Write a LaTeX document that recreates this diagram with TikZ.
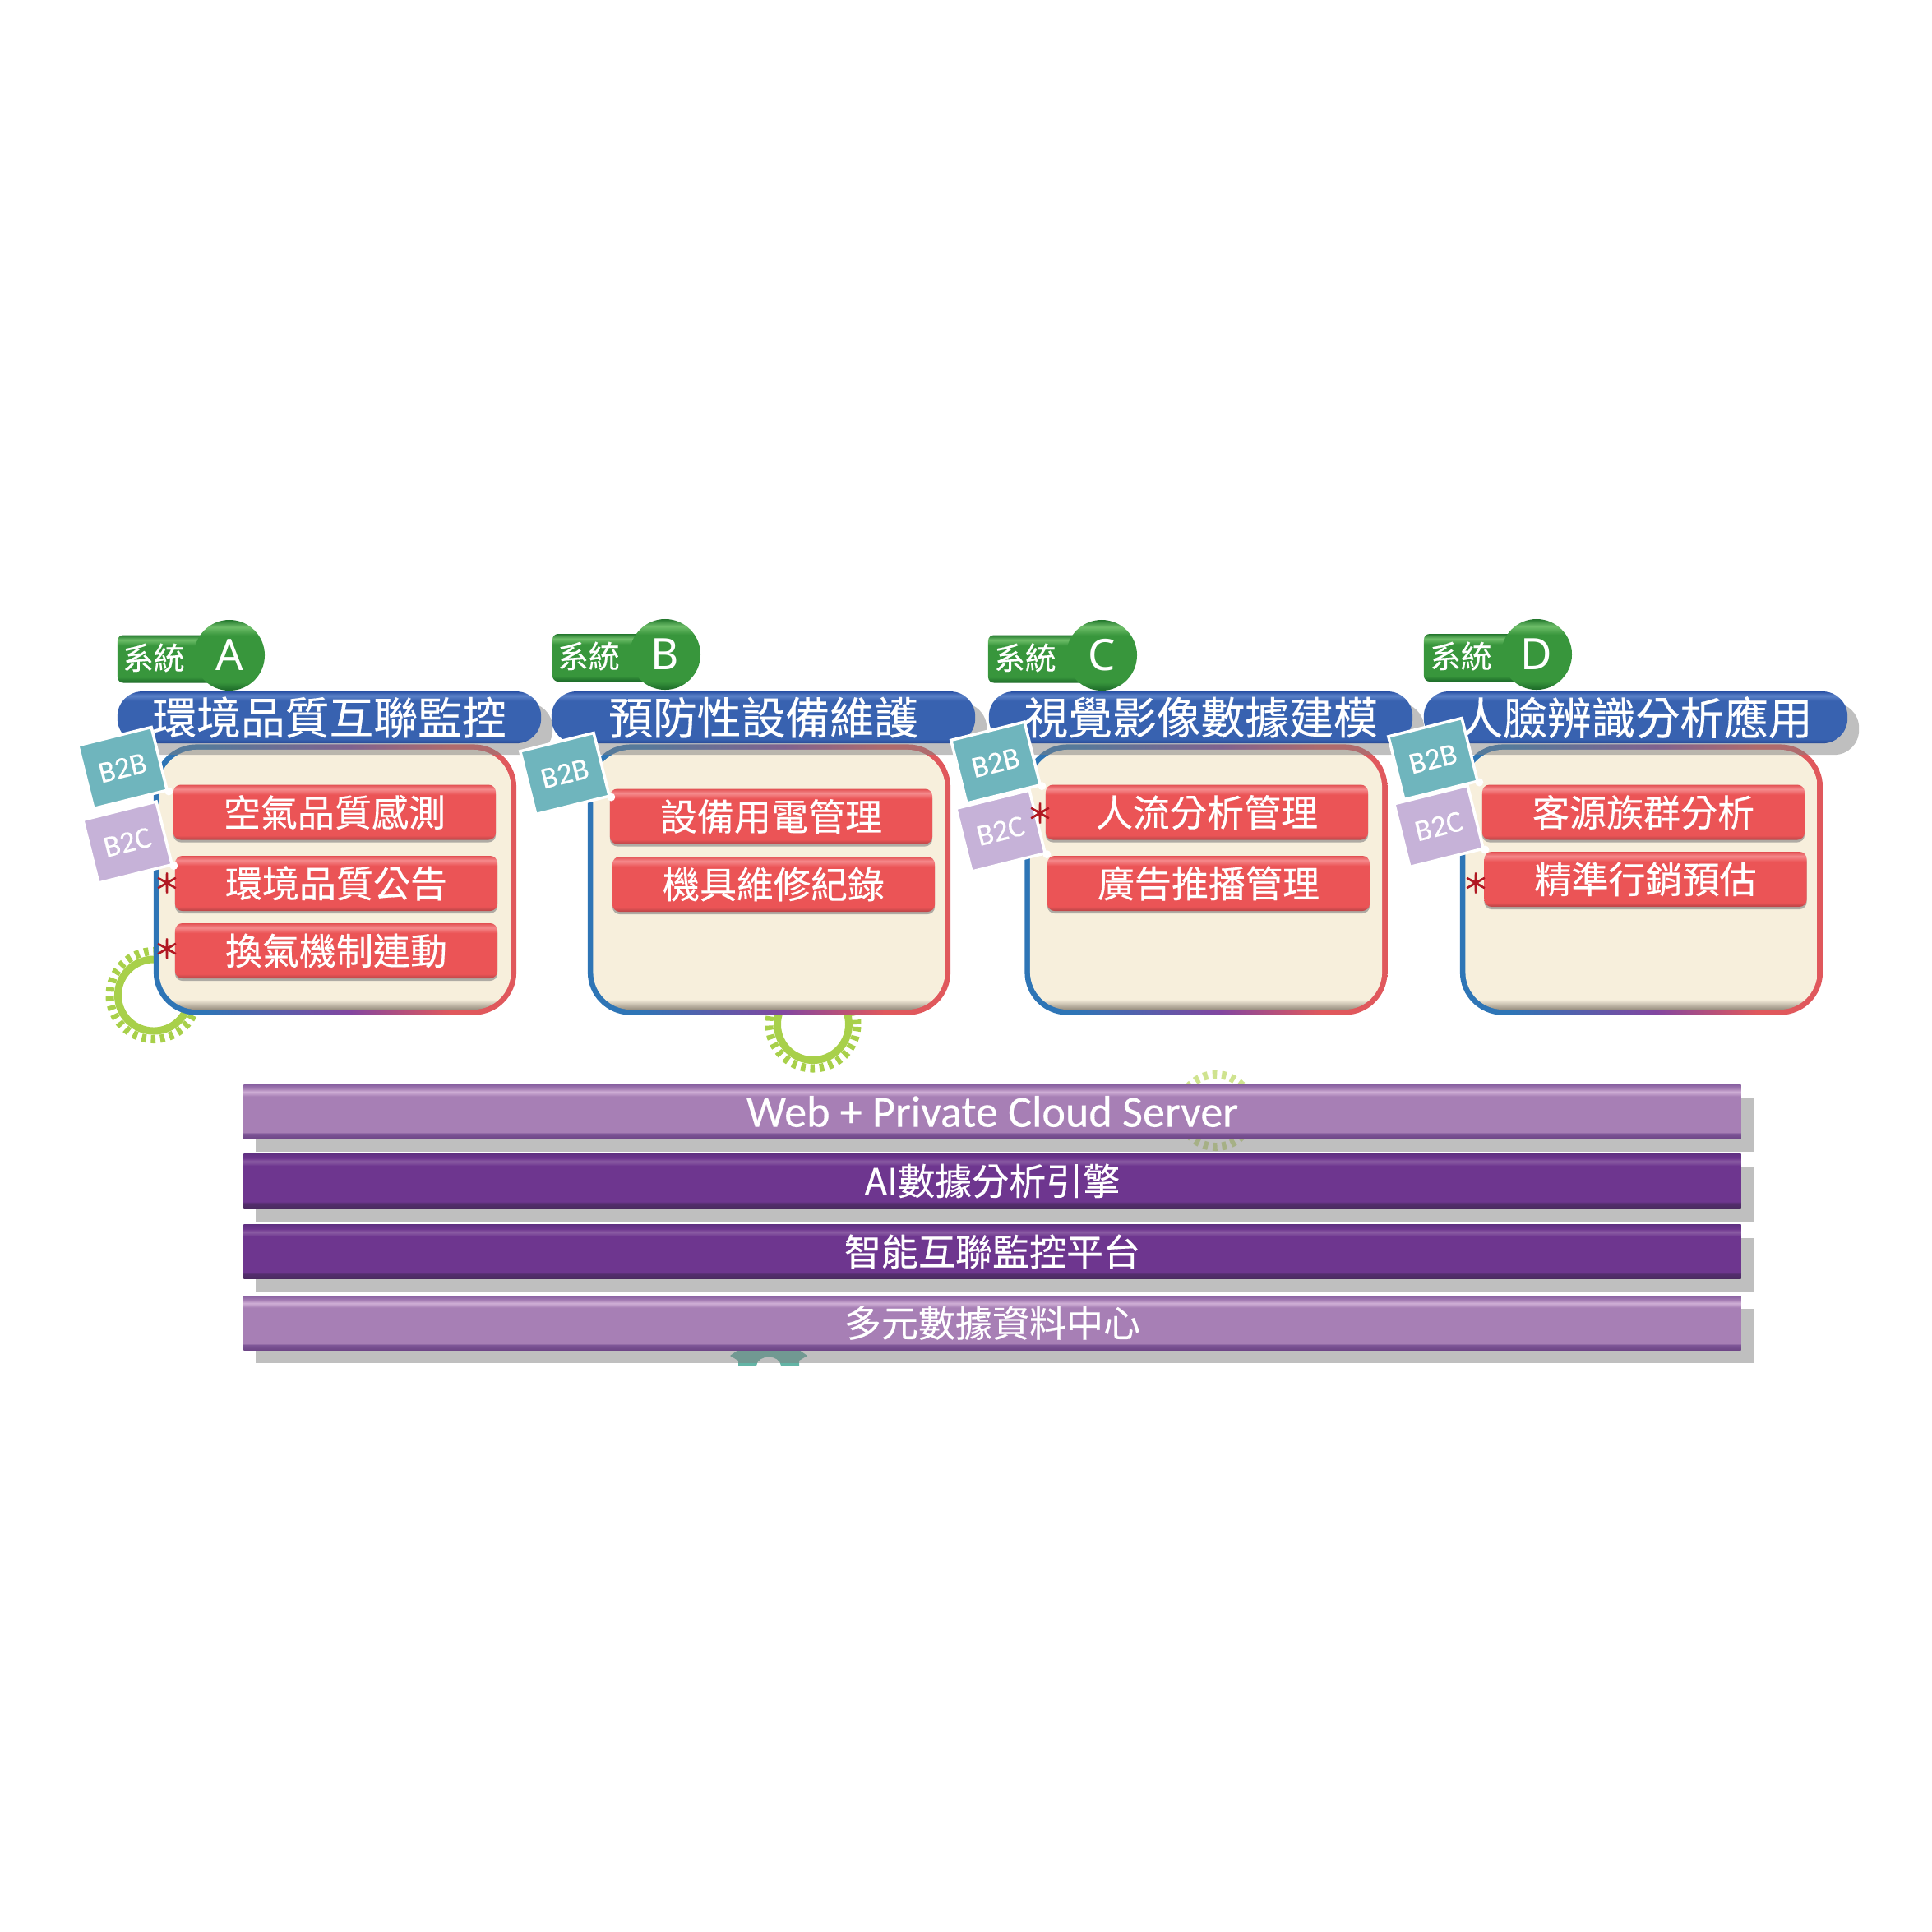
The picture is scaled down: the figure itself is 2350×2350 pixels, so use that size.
\documentclass[tikz,border=0pt]{standalone}
\usepackage{fontspec}
\setmainfont{Noto Sans CJK TC}[FakeBold=0.25]
\newfontfamily\latinfont{Carlito}[FakeBold=0.2]
\newfontfamily\letterfont{Noto Sans}
\newfontfamily\starfont{Noto Sans CJK TC}[FakeBold=2.5]
\usetikzlibrary{shadows}

\definecolor{shadowgray}{HTML}{7F7F7F}
\definecolor{gearcol}{HTML}{A8D04A}
\definecolor{gearpale}{HTML}{CFE38F}
\definecolor{tagteal}{HTML}{6FB5BD}
\definecolor{taglilac}{HTML}{C6B2D8}
\definecolor{starred}{HTML}{B01822}
\definecolor{puzzleteal}{HTML}{63B5A6}
\definecolor{redmain}{HTML}{EB5456}
\definecolor{redlight}{HTML}{F58A8C}
\definecolor{reddark}{HTML}{B84446}
\definecolor{redtop}{HTML}{E25052}
\definecolor{bluemain}{HTML}{3862B0}
\definecolor{bluelight}{HTML}{5C82C8}
\definecolor{bluedark}{HTML}{284B96}
\definecolor{bluetop}{HTML}{2850A5}
\definecolor{greenmain}{HTML}{38963C}
\definecolor{greenlight}{HTML}{6EBE69}
\definecolor{greendark}{HTML}{1C6928}
\definecolor{greentop}{HTML}{23782D}
\definecolor{lilmain}{HTML}{A77FB5}
\definecolor{lillight}{HTML}{D0AFD6}
\definecolor{lildark}{HTML}{6E4687}
\definecolor{lilshade}{HTML}{7D5596}
\definecolor{liltop}{HTML}{875FA0}
\definecolor{purmain}{HTML}{6E368F}
\definecolor{purlight}{HTML}{8A5CA3}
\definecolor{purdark}{HTML}{4A2A60}
\definecolor{purshade}{HTML}{542D6E}
\definecolor{purtop}{HTML}{603082}
\definecolor{rimblue}{HTML}{2E75B6}
\definecolor{rimmid}{HTML}{8246A0}
\definecolor{rimred}{HTML}{E0585C}
\definecolor{cream}{HTML}{F7EFDC}
\definecolor{creamdark}{HTML}{968C7D}

\pgfdeclareverticalshading{redbtn}{100bp}{color(0bp)=(reddark); color(25bp)=(reddark); color(29bp)=(redmain); color(66bp)=(redmain); color(71bp)=(redlight); color(75bp)=(redtop); color(100bp)=(redtop)}
\pgfdeclareverticalshading{bluebar}{100bp}{color(0bp)=(bluedark); color(25bp)=(bluedark); color(29bp)=(bluemain); color(66bp)=(bluemain); color(71bp)=(bluelight); color(75bp)=(bluetop); color(100bp)=(bluetop)}
\pgfdeclareverticalshading{greenbtn}{100bp}{color(0bp)=(greendark); color(25bp)=(greendark); color(31bp)=(greenmain); color(64bp)=(greenmain); color(70bp)=(greenlight); color(75bp)=(greentop); color(100bp)=(greentop)}
\pgfdeclareverticalshading{lightlayer}{100bp}{color(0bp)=(lildark); color(25bp)=(lildark); color(29.5bp)=(lilshade); color(31bp)=(lilmain); color(64bp)=(lilmain); color(68bp)=(lillight); color(71bp)=(lilmain); color(75bp)=(liltop); color(100bp)=(liltop)}
\pgfdeclareverticalshading{darklayer}{100bp}{color(0bp)=(purdark); color(25bp)=(purdark); color(29.5bp)=(purshade); color(31bp)=(purmain); color(64bp)=(purmain); color(68bp)=(purlight); color(71bp)=(purmain); color(75bp)=(purtop); color(100bp)=(purtop)}
\pgfdeclarehorizontalshading{boxrim}{100bp}{color(0bp)=(rimblue); color(32bp)=(rimblue); color(52bp)=(rimmid); color(66bp)=(rimred); color(100bp)=(rimred)}
\pgfdeclareverticalshading{boxfill}{100bp}{color(0bp)=(creamdark); color(25bp)=(creamdark); color(27bp)=(cream); color(100bp)=(cream)}

\tikzset{
    boxrimst/.style={rectangle,shading=boxrim,minimum width=4.41cm,minimum height=3.29cm,rounded corners=0.52cm},
    boxinner/.style={rectangle,shading=boxfill,minimum width=4.28cm,minimum height=3.16cm,rounded corners=0.46cm},
    titlebar/.style={rectangle,shading=bluebar,text=white,minimum width=5.15cm,minimum height=0.63cm,inner sep=0pt,rounded corners=0.30cm,
        font=\fontsize{15.3pt}{17pt}\selectfont,drop shadow={shadow xshift=0.14cm,shadow yshift=-0.14cm,fill=shadowgray,opacity=0.5}},
    redbutton/.style={rectangle,shading=redbtn,text=white,minimum width=3.92cm,minimum height=0.67cm,inner sep=0pt,rounded corners=0.09cm,
        font=\fontsize{12.8pt}{14pt}\selectfont,drop shadow={shadow xshift=0cm,shadow yshift=-0.03cm,fill=shadowgray,opacity=0.6}},
    syslabel/.style={rectangle,shading=greenbtn,text=white,minimum width=1.30cm,minimum height=0.58cm,inner sep=0pt,rounded corners=0.07cm},
    systext/.style={text=white,inner sep=0pt,font=\fontsize{10.7pt}{12pt}\selectfont},
    sysletter/.style={circle,shading=greenbtn,text=white,minimum size=0.86cm,inner sep=0pt,font=\letterfont\fontsize{15pt}{17pt}\selectfont},
    tagbase/.style={rectangle,draw=white,line width=0.035cm,rotate=14,text=white,minimum width=0.92cm,minimum height=0.79cm,inner sep=0pt,font=\latinfont\fontsize{10.5pt}{12pt}\selectfont},
    tagb2b/.style={tagbase,fill=tagteal},
    tagb2c/.style={tagbase,fill=taglilac},
    mark star/.style={text=starred,inner sep=0pt,font=\starfont\fontsize{9pt}{10pt}\selectfont},
    gearring/.style={circle,draw=#1,line width=0.09cm,minimum size=0.87cm,inner sep=0pt},
    gearteeth/.style={circle,draw=#1,line width=0.10cm,minimum size=1.07cm,inner sep=0pt,dash pattern=on 0.055cm off 0.058cm},
    layerlight/.style={rectangle,shading=lightlayer,text=white,minimum width=18.20cm,minimum height=0.66cm,inner sep=0pt,
        font=\fontsize{12.8pt}{14pt}\selectfont,drop shadow={shadow xshift=0.15cm,shadow yshift=-0.16cm,fill=shadowgray,opacity=0.5}},
    layerdark/.style={layerlight,shading=darklayer}
}

\begin{document}
\begin{tikzpicture}[x=0.01cm,y=-0.01cm]
    \useasboundingbox (0,0) rectangle (2350,2350);

    % gears behind everything
    \node[gearteeth=gearcol] (gearAt) at (187,1210.5) {};
    \node[gearring=gearcol] (gearAr) at (187,1210.5) {};
    \node[gearteeth=gearcol] (gearBt) at (989,1246) {};
    \node[gearring=gearcol] (gearBr) at (989,1246) {};
    \node[gearteeth=gearpale,minimum size=0.88cm] (gearC) at (1479,1351) {};
    \fill[puzzleteal] (888,1649) -- (898,1642) -- (972,1642) -- (982,1649) -- (972,1655) -- (972,1661) -- (950,1661)
        .. controls (948,1647) and (922,1647) .. (920,1661) -- (898,1661) -- (898,1655) -- cycle;

    % layers
    \node[layerlight] (layerWeb) at (1207,1352) {\latinfont\fontsize{15.4pt}{17pt}\selectfont Web + Private Cloud Server};
    \node[layerdark] (layerAI) at (1207,1436.5) {AI數據分析引擎};
    \node[layerdark] (layerIoT) at (1207,1522.5) {智能互聯監控平台};
    \node[layerlight] (layerData) at (1207,1609) {多元數據資料中心};

    % system A
    \node[boxrimst] (boxA) at (407.5,1070) {};
    \node[boxinner] (boxAin) at (boxA.center) {};
    \node[titlebar] (titleA) at (400.5,872.6) {環境品質互聯監控};
    \node[syslabel] (labelA) at (208,801.5) {};
    \node[systext] (labelAt) at (187,800) {系統};
    \node[sysletter] (letterA) at (279,797) {A};
    \node[redbutton] (btnA1) at (407,988) {空氣品質感測};
    \node[redbutton] (btnA2) at (409,1074.5) {環境品質公告};
    \node[redbutton] (btnA3) at (409,1156.5) {換氣機制連動};
    \node[tagb2b] (bbA) at (149,934) {B2B};
    \node[tagb2c] (bcA) at (155,1024.5) {B2C};
    \fill[white] (bbA.south east) circle (0.05cm);
    \fill[white] (bcA.south east) circle (0.05cm);
    \node[mark star] (starA2) at (203,1074) {＊};
    \node[mark star] (starA3) at (203,1154) {＊};

    % system B
    \node[boxrimst] (boxB) at (935.5,1070) {};
    \node[boxinner] (boxBin) at (boxB.center) {};
    \node[titlebar] (titleB) at (928.5,872.6) {預防性設備維護};
    \node[syslabel] (labelB) at (737,800) {};
    \node[systext] (labelBt) at (716,798) {系統};
    \node[sysletter] (letterB) at (809,796) {B};
    \node[redbutton] (btnB1) at (938,993) {設備用電管理};
    \node[redbutton] (btnB2) at (941,1075.5) {機具維修紀錄};
    \node[tagb2b] (bbB) at (687,941) {B2B};
    \fill[white] (bbB.south east) circle (0.05cm);

    % system C
    \node[boxrimst] (boxC) at (1467,1070) {};
    \node[boxinner] (boxCin) at (boxC.center) {};
    \node[titlebar] (titleC) at (1460.5,872.6) {視覺影像數據建模};
    \node[syslabel] (labelC) at (1267,801.5) {};
    \node[systext] (labelCt) at (1247,800) {系統};
    \node[sysletter] (letterC) at (1340,797) {C};
    \node[redbutton] (btnC1) at (1468,988) {人流分析管理};
    \node[redbutton] (btnC2) at (1470,1074.5) {廣告推播管理};
    \node[tagb2b] (bbC) at (1211,927.6) {B2B};
    \node[tagb2c] (bcC) at (1217,1010.6) {B2C};
    \fill[white] (bbC.south east) circle (0.05cm);
    \fill[white] (bcC.south east) circle (0.05cm);
    \node[mark star] (starC1) at (1265,989) {＊};

    % system D
    \node[boxrimst] (boxD) at (1996.5,1070) {};
    \node[boxinner] (boxDin) at (boxD.center) {};
    \node[titlebar] (titleD) at (1989.5,872.6) {人臉辨識分析應用};
    \node[syslabel] (labelD) at (1797,800) {};
    \node[systext] (labelDt) at (1777,798) {系統};
    \node[sysletter] (letterD) at (1869,796) {D};
    \node[redbutton] (btnD1) at (1999,988) {客源族群分析};
    \node[redbutton] (btnD2) at (2001.5,1069.5) {精準行銷預估};
    \node[tagb2b] (bbD) at (1743,923) {B2B};
    \node[tagb2c] (bcD) at (1750,1005) {B2C};
    \fill[white] (bbD.south east) circle (0.05cm);
    \fill[white] (bcD.south east) circle (0.05cm);
    \node[mark star] (starD2) at (1795,1074) {＊};
\end{tikzpicture}
\end{document}
